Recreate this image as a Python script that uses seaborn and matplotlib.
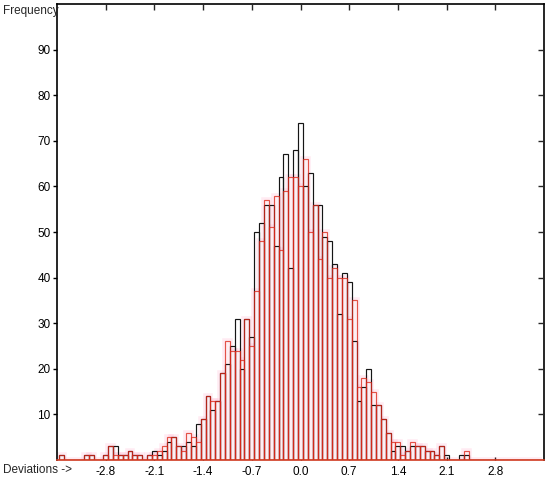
import numpy as np
import pandas as pd
import matplotlib
matplotlib.use("Agg")
import matplotlib.pyplot as plt
import seaborn as sns

# ---- data (counts per bin, bin width 0.07, centres -3.43 ... 3.43) ----
bin_width = 0.07
n_bins = 99
black_counts = [1, 0, 0, 0, 0, 1, 1, 0, 0, 1,
                3, 3, 1, 1, 2, 1, 1, 0, 1, 2,
                1, 2, 4, 5, 3, 3, 4, 3, 8, 9,
                14, 11, 13, 19, 21, 25, 31, 20, 31, 27,
                50, 52, 56, 56, 47, 62, 67, 42, 68, 74,
                60, 63, 56, 56, 49, 48, 43, 32, 41, 39,
                26, 13, 16, 20, 12, 12, 9, 6, 2, 3,
                3, 2, 3, 3, 3, 2, 2, 1, 3, 1,
                0, 0, 1, 1, 0, 0, 0, 0, 0, 0,
                0, 0, 0, 0, 0, 0, 0, 0, 0]
red_counts = [1, 0, 0, 0, 0, 1, 1, 0, 0, 1,
              3, 1, 1, 1, 2, 1, 1, 0, 1, 1,
              2, 3, 5, 5, 3, 2, 6, 5, 4, 9,
              14, 13, 13, 19, 26, 24, 24, 22, 31, 25,
              37, 48, 57, 51, 58, 46, 59, 62, 62, 60,
              66, 50, 56, 44, 50, 40, 42, 40, 40, 31,
              35, 16, 18, 17, 15, 12, 9, 6, 4, 4,
              1, 2, 4, 3, 3, 2, 2, 1, 3, 0,
              0, 0, 0, 2, 0, 0, 0, 0, 0, 0,
              0, 0, 0, 0, 0, 0, 0, 0, 0]
x_ticks = [-2.8, -2.1, -1.4, -0.7, 0.0, 0.7, 1.4, 2.1, 2.8]
x_tick_labels = ["-2.8", "-2.1", "-1.4", "-0.7", "0.0", "0.7", "1.4", "2.1", "2.8"]
y_ticks = [10, 20, 30, 40, 50, 60, 70, 80, 90]
y_tick_labels = ["10", "20", "30", "40", "50", "60", "70", "80", "90"]

edges = [round(-3.465 + bin_width * i, 4) for i in range(n_bins + 1)]
centres = [round((edges[i] + edges[i + 1]) / 2, 4) for i in range(n_bins)]
df = pd.DataFrame({"dev": centres, "black": black_counts, "red": red_counts})

sns.set_style("white")
plt.rcParams["font.family"] = ["Liberation Sans Narrow", "Liberation Sans", "DejaVu Sans"]
plt.rcParams["axes.unicode_minus"] = False

W, H = 550, 480
fig = plt.figure(figsize=(W / 100, H / 100), dpi=100)
ax = fig.add_axes([57 / W, 20 / H, (544 - 57) / W, (476 - 20) / H])

# pink glow around red bars
sns.histplot(data=df, x="dev", weights="red", bins=edges, element="bars", fill=False,
             color="#ff9fc0", linewidth=4.0, alpha=0.2, ax=ax)
# light pink interior
sns.histplot(data=df, x="dev", weights="red", bins=edges, element="bars", fill=True,
             color="#ffeef3", alpha=1.0, linewidth=0, ax=ax)
# black outlines
sns.histplot(data=df, x="dev", weights="black", bins=edges, element="bars", fill=False,
             color="#151515", linewidth=0.85, ax=ax)
# red outlines
sns.histplot(data=df, x="dev", weights="red", bins=edges, element="bars", fill=False,
             color="#dc2a1c", linewidth=0.85, alpha=0.8, ax=ax)

ax.set_xlim(-3.5, 3.5)
ax.set_ylim(0, 100)
ax.set_xlabel("")
ax.set_ylabel("")
ax.set_xticks(x_ticks)
ax.set_xticklabels(x_tick_labels)
ax.set_yticks(y_ticks)
ax.set_yticklabels(y_tick_labels)
ax.tick_params(axis="y", direction="out", length=3, width=1, pad=1.5,
               labelsize=8.5, colors="black", left=True)
ax.tick_params(axis="x", direction="in", length=2, width=1, pad=4,
               labelsize=8.5, colors="black", bottom=True)
for side in ["left", "top", "right"]:
    ax.spines[side].set_color("black")
    ax.spines[side].set_linewidth(1.2)
ax.spines["bottom"].set_color("#d03a20")
ax.spines["bottom"].set_linewidth(1.2)

# inward ticks on right and top
ax_r = ax.twinx()
ax_r.set_ylim(0, 100)
ax_r.set_yticks(y_ticks)
ax_r.tick_params(axis="y", direction="in", length=4, width=1, labelright=False)
ax_t = ax.twiny()
ax_t.set_xlim(-3.5, 3.5)
ax_t.set_xticks(x_ticks)
ax_t.tick_params(axis="x", direction="in", length=4, width=1, labeltop=False)
for a in (ax_r, ax_t):
    for sp in a.spines.values():
        sp.set_visible(False)

fig.text(3 / W, 1 - 11 / H, "Frequency", ha="left", va="center", fontsize=8.5)
fig.text(3 / W, 1 - 470 / H, "Deviations ->", ha="left", va="center", fontsize=8.5)

fig.savefig("out.png", dpi=100, facecolor="white")
